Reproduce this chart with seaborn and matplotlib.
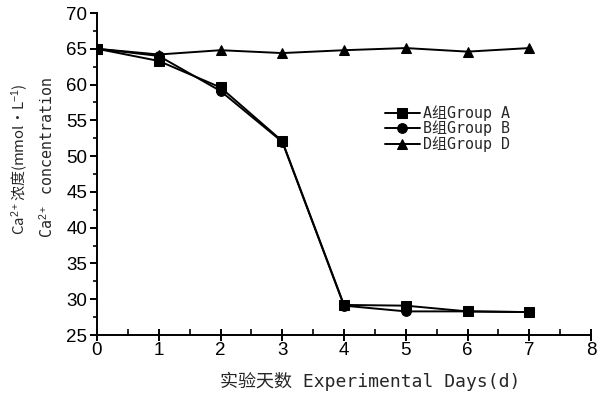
import matplotlib
matplotlib.use("Agg")
import matplotlib.pyplot as plt
from matplotlib.ticker import MultipleLocator
import seaborn as sns
import pandas as pd

days = [0, 1, 2, 3, 4, 5, 6, 7]
group_a = [65.0, 63.3, 59.6, 52.1, 29.2, 29.1, 28.3, 28.2]
group_b = [65.0, 64.0, 59.1, 52.0, 29.1, 28.3, 28.3, 28.2]
group_d = [65.0, 64.2, 64.8, 64.4, 64.8, 65.1, 64.6, 65.1]
group_labels = ["A组Group A", "B组Group B", "D组Group D"]

rows = []
for label, values in zip(group_labels, [group_a, group_b, group_d]):
    for d, v in zip(days, values):
        rows.append({"day": d, "conc": v, "group": label})
df = pd.DataFrame(rows)

sns.set_theme(style="ticks")
plt.rcParams["font.family"] = ["Liberation Sans", "Noto Sans CJK SC"]
plt.rcParams["mathtext.fontset"] = "custom"
plt.rcParams["mathtext.rm"] = "Liberation Sans"
plt.rcParams["mathtext.it"] = "Liberation Sans"

fig = plt.figure(figsize=(5.97, 3.94), dpi=100)
ax = fig.add_axes([97 / 597, 1 - 335 / 394, 494 / 597, 322 / 394])

sns.lineplot(
    data=df, x="day", y="conc", hue="group", style="group",
    palette=["black"] * 3,
    markers={group_labels[0]: "s", group_labels[1]: "o", group_labels[2]: "^"},
    dashes=False, markersize=7, linewidth=1.4,
    markeredgecolor="black", ax=ax, legend=True,
)

ax.set_xlim(0, 8)
ax.set_ylim(25, 70)
ax.xaxis.set_major_locator(MultipleLocator(1))
ax.xaxis.set_minor_locator(MultipleLocator(0.5))
ax.yaxis.set_major_locator(MultipleLocator(5))
ax.yaxis.set_minor_locator(MultipleLocator(2.5))
for side in ("top", "right"):
    ax.spines[side].set_visible(False)
for side in ("left", "bottom"):
    ax.spines[side].set_linewidth(1.4)
    ax.spines[side].set_color("black")
ax.tick_params(axis="x", which="major", direction="inout", length=8, width=1.4,
               labelsize=13.5, colors="black", pad=1)
ax.tick_params(axis="x", which="minor", direction="in", length=4, width=1.4)
ax.tick_params(axis="y", which="major", direction="out", length=5, width=1.4,
               labelsize=13.5, colors="black", pad=2)
ax.tick_params(axis="y", which="minor", direction="out", length=3, width=1.4)
ax.set_xlabel("")
ax.set_ylabel("")

mono_cjk = ["DejaVu Sans Mono", "Noto Sans CJK SC"]
fig.text(370 / 597, 1 - 381 / 394, "实验天数 Experimental Days(d)",
         ha="center", va="center", fontsize=13, family=mono_cjk)
fig.text(20 / 597, 1 - 159 / 394, "Ca$^{2+}$浓度(mmol•L$^{-1}$)",
         rotation=90, ha="center", va="center", fontsize=10.8,
         family=["Noto Sans CJK SC"])
fig.text(47 / 597, 1 - 157 / 394, "Ca$^{2+}$ concentration",
         rotation=90, ha="center", va="center", fontsize=10.8, family=["DejaVu Sans Mono"])

handles, labels = ax.get_legend_handles_labels()
ax.legend(handles, labels, loc="upper left", frameon=False,
          bbox_to_anchor=(385 / 597, 1 - 105 / 394), bbox_transform=fig.transFigure,
          prop={"family": mono_cjk, "size": 10.8}, handlelength=2.3,
          handletextpad=0.2, labelspacing=0.0, borderpad=0, borderaxespad=0)

fig.savefig("out.png", dpi=100)
